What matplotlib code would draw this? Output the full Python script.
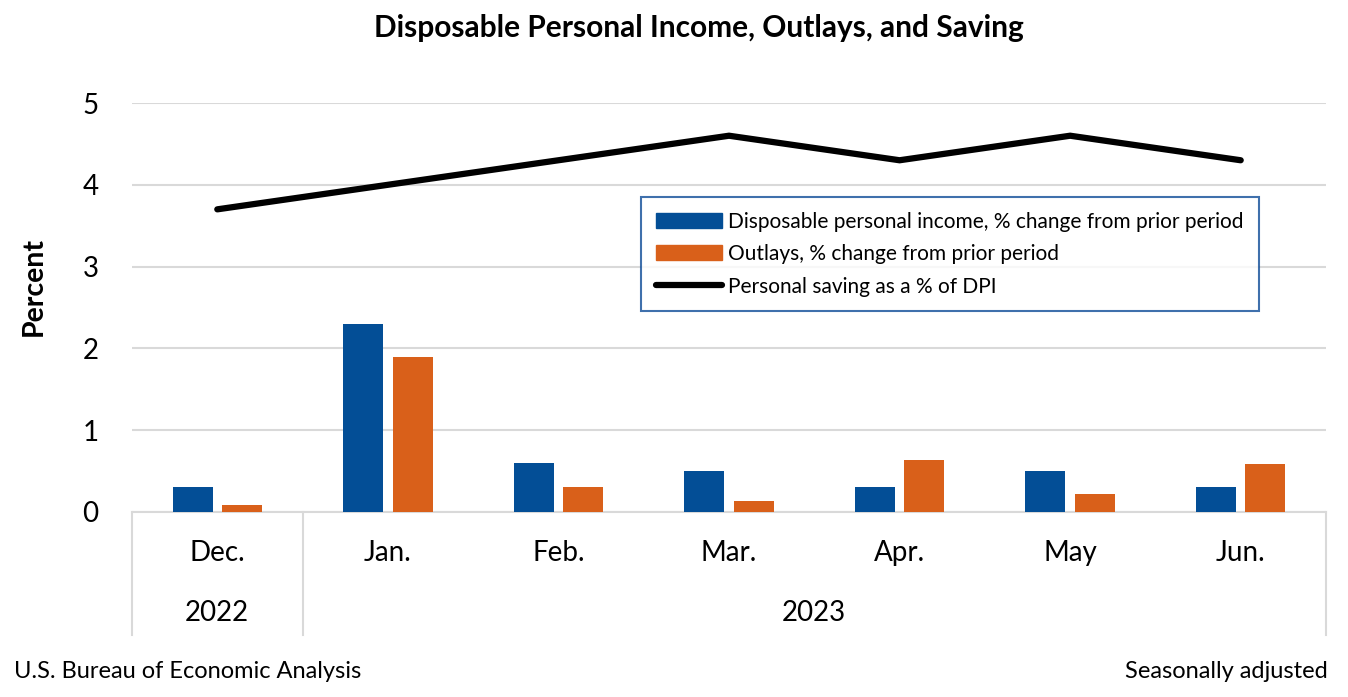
import matplotlib
matplotlib.use("Agg")
import matplotlib.pyplot as plt
import numpy as np
from matplotlib.lines import Line2D
from matplotlib.patches import Patch

months = ["Dec.", "Jan.", "Feb.", "Mar.", "Apr.", "May", "Jun."]
years = ["2022", "2023"]
year_spans = [(0, 1), (1, 7)]
dpi_change = [0.3, 2.3, 0.6, 0.5, 0.3, 0.5, 0.3]
outlays_change = [0.09, 1.9, 0.3, 0.13, 0.64, 0.22, 0.59]
saving_rate = [3.7, 4.0, 4.3, 4.6, 4.3, 4.6, 4.3]

plt.rcParams['font.family'] = ['Lato', 'DejaVu Sans']

blue = "#034E96"
orange = "#D9601A"
grid = "#D9D9D9"

fig = plt.figure(figsize=(13.48, 6.97), dpi=100)
ax = fig.add_axes([132/1348, 1-512/697, (1326-132)/1348, (512-103)/697])

x = np.arange(len(months))
w = 0.234
off = 0.145
ax.bar(x - off, dpi_change, w, color=blue, zorder=3)
ax.bar(x + off, outlays_change, w, color=orange, zorder=3)
ax.plot(x, saving_rate, color="black", lw=4.5, zorder=4,
        solid_capstyle='round', solid_joinstyle='miter')

ax.set_xlim(-0.5, len(months) - 0.5)
ax.set_ylim(0, 5)
ax.set_yticks([0, 1, 2, 3, 4, 5])
ax.yaxis.grid(True, color=grid, lw=1.5, zorder=0)
ax.set_axisbelow(True)
for s in ["top", "right", "left"]:
    ax.spines[s].set_visible(False)
ax.spines["bottom"].set_color(grid)
ax.spines["bottom"].set_linewidth(1.5)
ax.tick_params(axis="y", length=0, labelsize=20, pad=24)
ax.tick_params(axis="x", length=0, labelbottom=False)

trans = ax.get_xaxis_transform()
for i, m in enumerate(months):
    ax.text(i, -0.1, m, transform=trans, ha="center", va="center", fontsize=20)
bounds = [-0.5] + [e - 0.5 for _, e in year_spans]
for b in bounds:
    ax.add_line(Line2D([b, b], [0, -0.3], transform=trans, color=grid, lw=1.5, clip_on=False))
for (s, e), yl in zip(year_spans, years):
    ax.text((s + e - 1) / 2, -0.248, yl, transform=trans, ha="center", va="center", fontsize=20)

fig.text(34/1348, 1-287/697, "Percent", rotation=90, ha="center", va="center",
         fontsize=20.5, fontweight="bold")
fig.text(699/1348, 1-28/697, "Disposable Personal Income, Outlays, and Saving",
         ha="center", va="center", fontsize=21.5, fontweight="bold")
fig.text(14/1348, 1-672/697, "U.S. Bureau of Economic Analysis", ha="left", va="center", fontsize=17)
fig.text(1328/1348, 1-672/697, "Seasonally adjusted", ha="right", va="center", fontsize=17)

handles = [Patch(color=blue), Patch(color=orange),
           Line2D([0], [0], color="black", lw=4.5, solid_capstyle='round')]
labels = ["Disposable personal income, % change from prior period",
          "Outlays, % change from prior period",
          "Personal saving as a % of DPI"]
leg = ax.legend(handles, labels, loc="upper left",
                bbox_to_anchor=((641-132)/(1326-132), 1-(197-103)/(512-103)),
                fontsize=15, frameon=True, fancybox=False, handlelength=3.2,
                handleheight=0.75, handletextpad=0.3, labelspacing=0.6,
                borderpad=0.7, borderaxespad=0)
leg.get_frame().set_edgecolor("#0F4C97")
leg.get_frame().set_linewidth(1.5)

fig.savefig("out.png", dpi=100)
